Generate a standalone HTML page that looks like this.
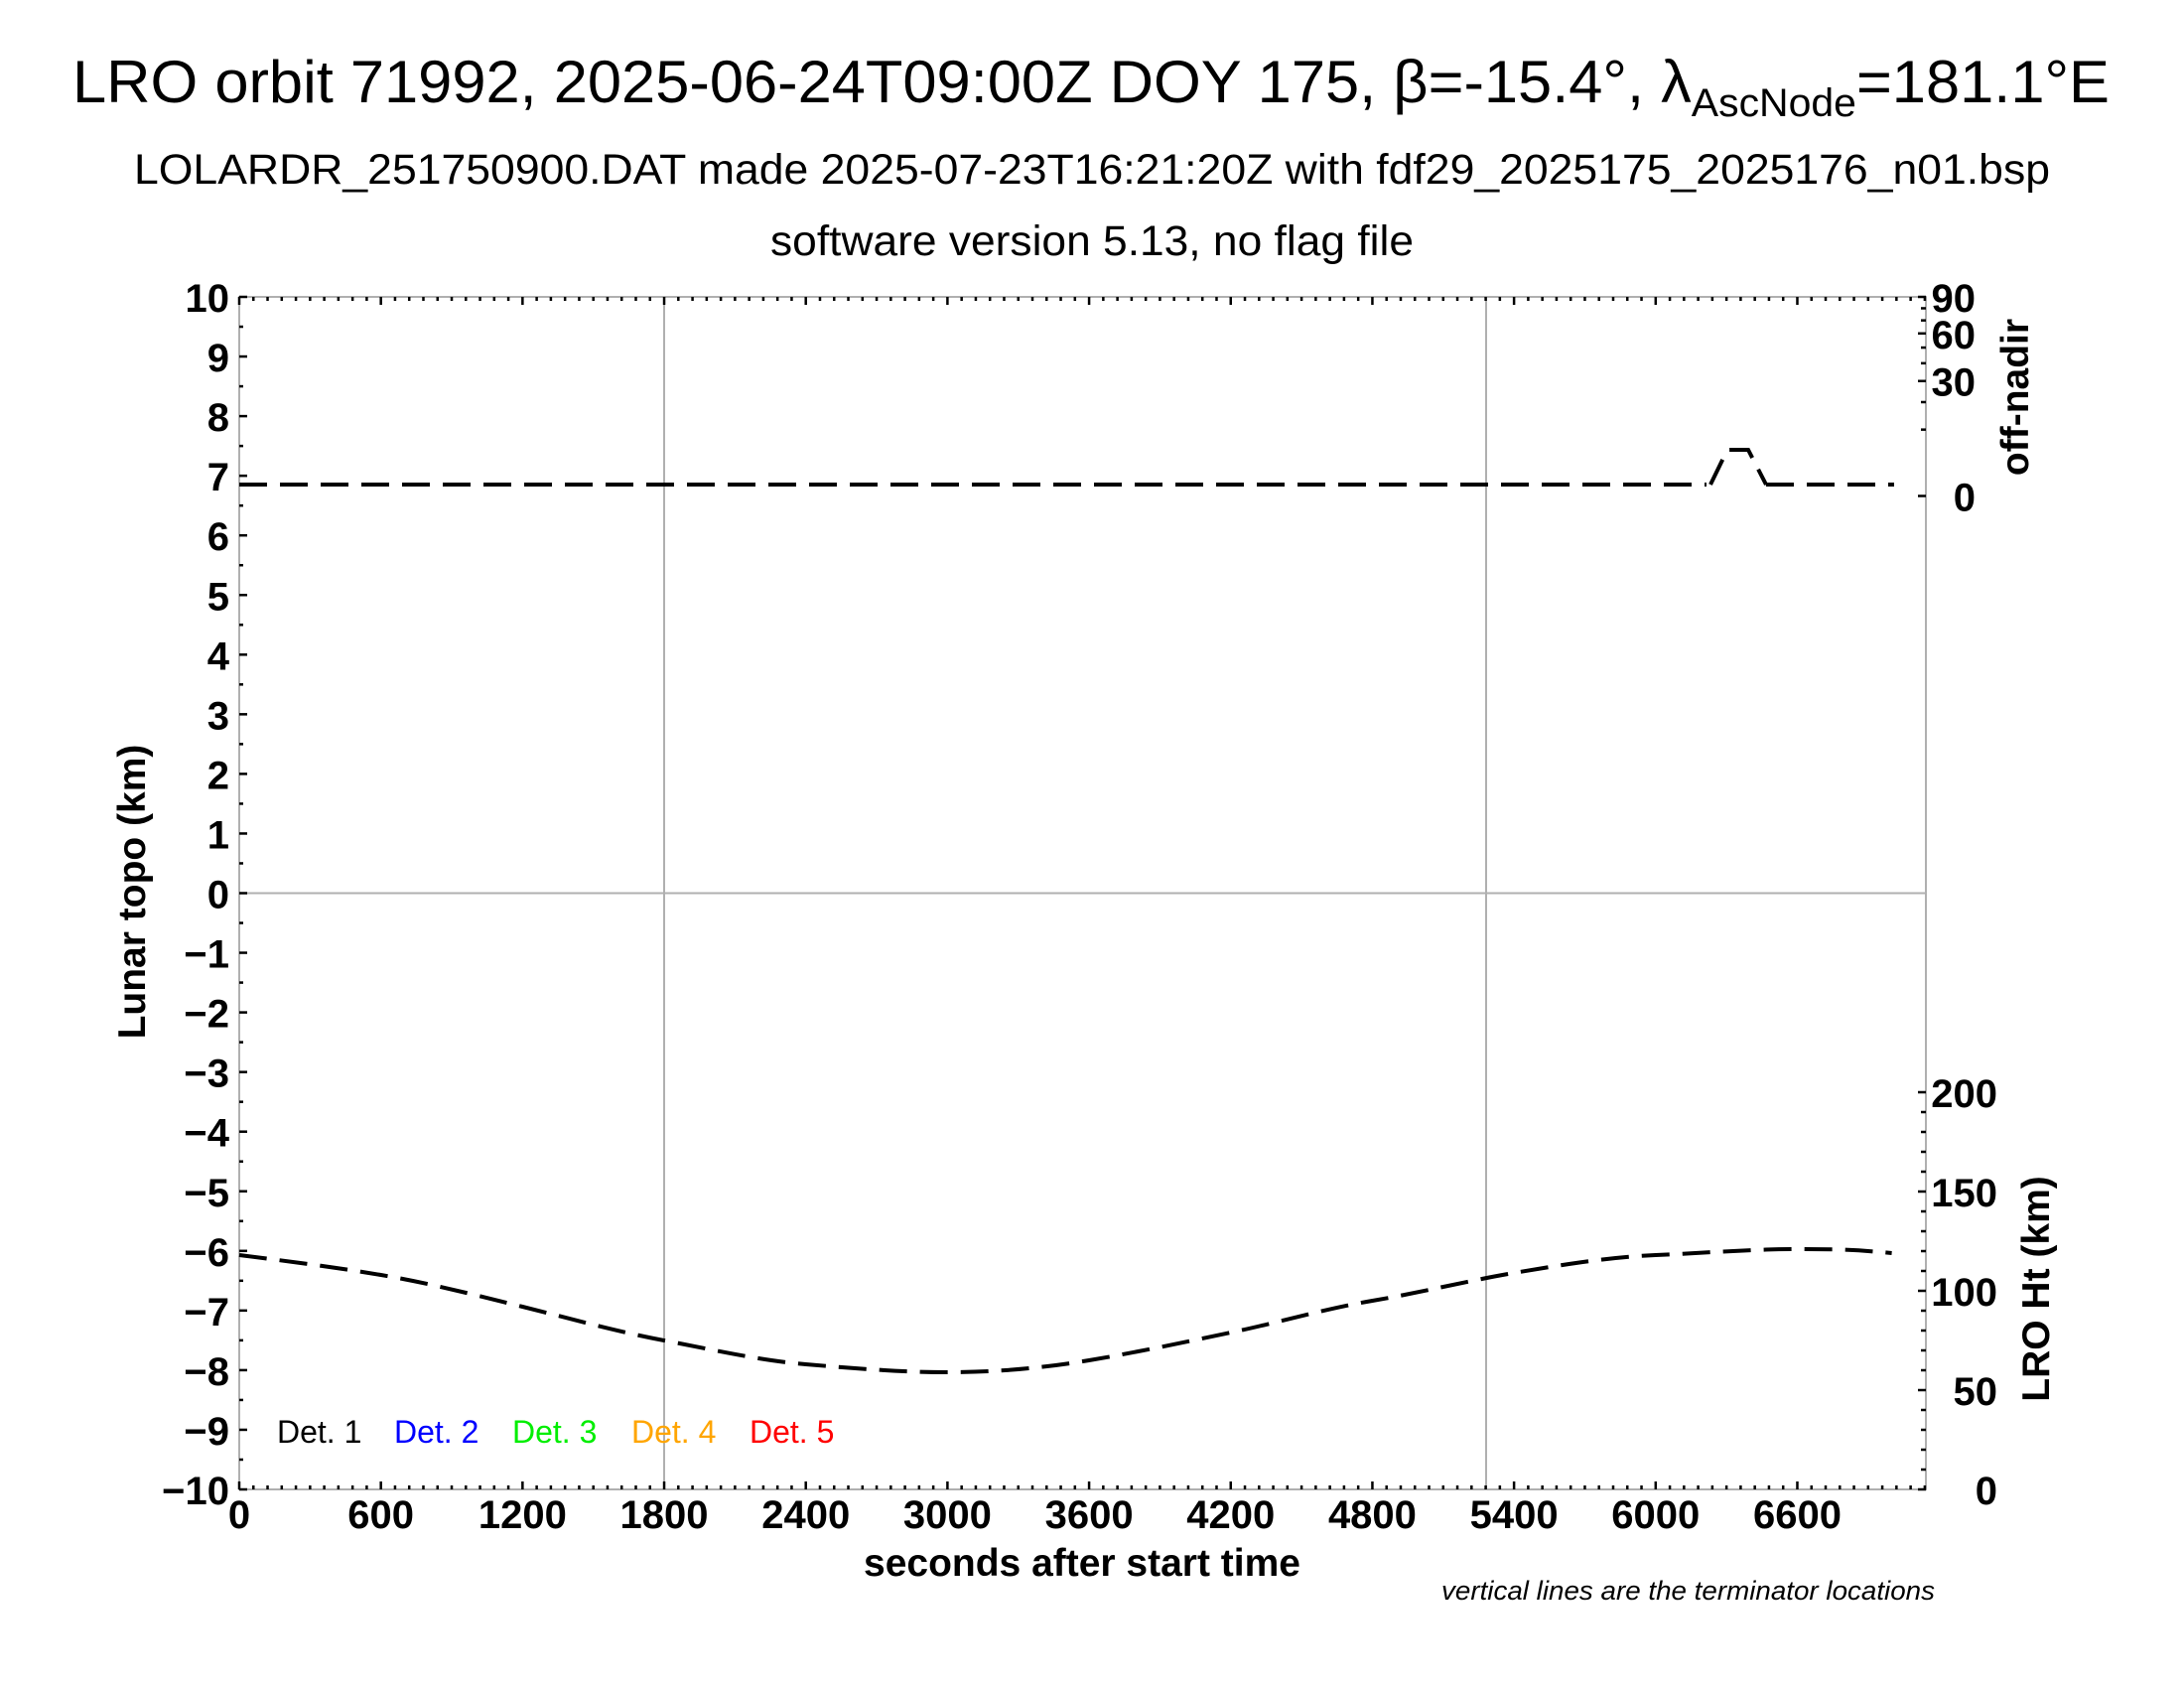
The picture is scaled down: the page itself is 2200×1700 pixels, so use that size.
<!DOCTYPE html>
<html><head><meta charset="utf-8"><style>
html,body{margin:0;padding:0;background:#fff;}
svg{display:block;font-family:"Liberation Sans",sans-serif;}
</style></head><body>
<svg id="s" width="2200" height="1700" viewBox="0 0 2200 1700" xmlns="http://www.w3.org/2000/svg">
<rect width="2200" height="1700" fill="#fff"/>
<text x="1099" y="103" font-size="60" text-anchor="middle" textLength="2052" lengthAdjust="spacingAndGlyphs">LRO orbit 71992, 2025-06-24T09:00Z DOY 175, β=-15.4°, λ<tspan font-size="40" dy="14">AscNode</tspan><tspan dy="-14">=181.1°E</tspan></text>
<text x="1100" y="185" font-size="43" text-anchor="middle" textLength="1930" lengthAdjust="spacingAndGlyphs">LOLARDR_251750900.DAT made 2025-07-23T16:21:20Z with fdf29_2025175_2025176_n01.bsp</text>
<text x="1100" y="257" font-size="43" text-anchor="middle" textLength="648" lengthAdjust="spacingAndGlyphs">software version 5.13, no flag file</text>
<g id="grid" stroke="#b0b0b0" stroke-width="2" fill="none">
<rect x="241" y="299" width="1699" height="1201"/>
<line x1="241" y1="899.5" x2="1940" y2="899.5"/>
<line x1="669" y1="299" x2="669" y2="1500"/>
<line x1="1497" y1="299" x2="1497" y2="1500"/>
</g>
<g id="ticks" stroke="#000" stroke-width="2.5"></g>
<g id="labels" font-weight="bold" font-size="40"></g>
<path d="M241,1264 C288,1270 336,1276 383.7,1284 S478,1304 526.4,1316 S621,1341 669,1350 S764,1370 811.7,1374 S906,1382 954.4,1382 S1049,1378 1097,1370 S1192,1352 1239.8,1342 S1335,1318 1382.4,1310 S1478,1290 1525,1282 S1620,1266 1667.8,1264 S1763,1258 1810.5,1258 S1873,1259 1905.6,1262" fill="none" stroke="#000" stroke-width="4" stroke-dasharray="28,13"/>
<path d="M241,488 L1719,488 M1723,488 L1740,453 L1761,453 L1779,488 M1779,488 L1908,488" fill="none" stroke="#000" stroke-width="4" stroke-dasharray="28,13"/>
<text x="133" y="898" font-size="39" font-weight="bold" text-anchor="middle" transform="rotate(-90 133 898)" dy="13">Lunar topo (km)</text>
<text x="1090" y="1587" font-size="39" font-weight="bold" text-anchor="middle">seconds after start time</text>
<text x="2030" y="400" font-size="39" font-weight="bold" text-anchor="middle" transform="rotate(-90 2030 400)" dy="13">off-nadir</text>
<text x="2051" y="1298" font-size="39" font-weight="bold" text-anchor="middle" transform="rotate(-90 2051 1298)" dy="13">LRO Ht (km)</text>
<g font-size="32">
<text x="279" y="1453" fill="#000">Det. 1</text>
<text x="397" y="1453" fill="#0000ff">Det. 2</text>
<text x="516" y="1453" fill="#00ee00">Det. 3</text>
<text x="636" y="1453" fill="#ffa500">Det. 4</text>
<text x="755" y="1453" fill="#ff0000">Det. 5</text>
</g>
<text x="1452" y="1611" font-size="27" font-style="italic" textLength="497" lengthAdjust="spacingAndGlyphs">vertical lines are the terminator locations</text>
</svg>
<script>
var NS="http://www.w3.org/2000/svg";
var T=document.getElementById("ticks"),L=document.getElementById("labels");
function ln(x1,y1,x2,y2){var e=document.createElementNS(NS,"line");e.setAttribute("x1",x1);e.setAttribute("y1",y1);e.setAttribute("x2",x2);e.setAttribute("y2",y2);T.appendChild(e);}
function tx(x,y,s,a){var e=document.createElementNS(NS,"text");e.setAttribute("x",x);e.setAttribute("y",y);e.setAttribute("text-anchor",a);e.textContent=s;L.appendChild(e);}
var X0=241,X1=1940,Y0=299,Y1=1500,sx=0.2378;
for(var t=0;t<=7140;t+=60){var x=X0+t*sx,m=(t%600==0);ln(x,Y1,x,Y1-(m?8:4));ln(x,Y0,x,Y0+(m?8:4));if(m&&t<=6600)tx(x,1539,String(t),"middle");}
for(var k=-20;k<=20;k++){var y=Y0+(10-k/2)*60.05,m=(k%2==0);ln(X0,y,X0+(m?8:4),y);if(m)tx(231,y+15,(k<0?"\u2212":"")+Math.abs(k/2),"end");}
for(var a=0;a<=90;a+=10){var y=499.5-200.5*Math.sqrt(a/90);ln(X1,y,X1-(a%30==0?8:5),y);if(a%30==0)tx(1990,y+15,String(a),"end");}
for(var h=0;h<=200;h+=10){var y=1500-2*h;ln(X1,y,X1-(h%50==0?8:5),y);if(h%50==0)tx(2012,y+15,String(h),"end");}
</script>
</body></html>
